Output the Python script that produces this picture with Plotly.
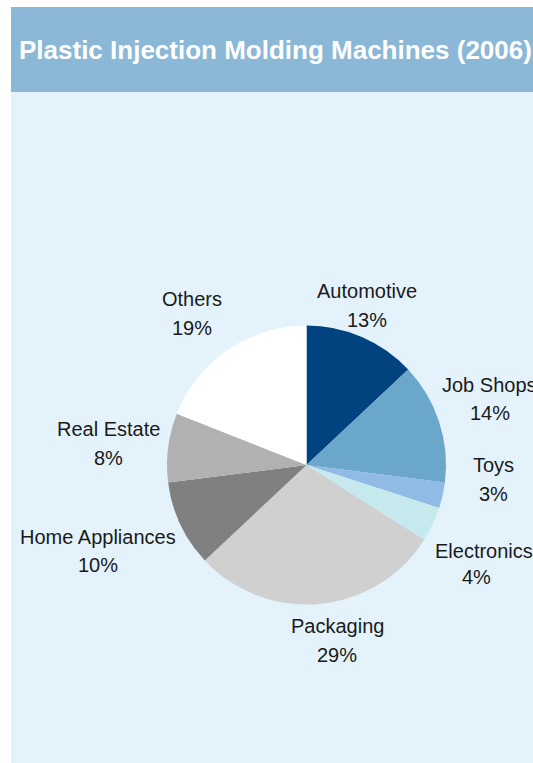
import plotly.graph_objects as go

# Market share by end-use sector
sectors = ["Automotive", "Job Shops", "Toys", "Electronics",
           "Packaging", "Home Appliances", "Real Estate", "Others"]
shares = [13, 14, 3, 4, 29, 10, 8, 19]
slice_colors = ["#00437f", "#6aa7cb", "#8fbbe4", "#c6e9ee",
                "#d0d0d0", "#808080", "#b1b1b1", "#ffffff"]

# Label placement (pixel centres of the name line and the percent line)
label_name_xy = [(367, 291), (490, 385), (493, 465), (484, 551),
                 (337, 626), (98, 537), (108, 429), (192, 299)]
label_pct_xy = [(367, 320), (490, 413), (493, 494), (476, 577),
                (337, 655), (98, 565), (108, 458), (192, 328)]

W, H = 533, 763
title = "Plastic Injection Molding Machines (2006)"
FONT = "Arial"


def px(x):
    return x / W


def py(y):
    return 1 - y / H


# Pie geometry in pixels
cx, cy, r = 306.5, 465, 139.5

fig = go.Figure(go.Pie(
    labels=sectors,
    values=shares,
    sort=False,
    direction="clockwise",
    rotation=0,
    marker=dict(colors=slice_colors, line=dict(width=0)),
    textinfo="none",
    hoverinfo="label+percent",
    showlegend=False,
    domain=dict(x=[px(cx - r), px(cx + r)], y=[py(cy + r), py(cy - r)]),
))

shapes = [
    # light panel
    dict(type="rect", xref="paper", yref="paper", x0=px(11), x1=1.05,
         y0=-0.05, y1=py(92), fillcolor="#e4f3fb", line=dict(width=0),
         layer="below"),
    # title bar
    dict(type="rect", xref="paper", yref="paper", x0=px(11), x1=1.05,
         y0=py(92), y1=py(7), fillcolor="#8ab8d6", line=dict(width=0),
         layer="below"),
]

annotations = [
    dict(text=f"<b>{title}</b>", x=px(17), y=py(50), xref="paper",
         yref="paper", xanchor="left", yanchor="middle", showarrow=False,
         font=dict(family=FONT, size=26, color="#ffffff")),
]

label_font = dict(family=FONT, size=20, color="#1a1a1a")
total = sum(shares)
for name, val, (nx, ny), (qx, qy) in zip(sectors, shares, label_name_xy, label_pct_xy):
    annotations.append(dict(text=name, x=px(nx), y=py(ny), xref="paper",
                            yref="paper", xanchor="center", yanchor="middle",
                            showarrow=False, font=label_font))
    annotations.append(dict(text=f"{round(100 * val / total)}%", x=px(qx),
                            y=py(qy), xref="paper", yref="paper",
                            xanchor="center", yanchor="middle",
                            showarrow=False, font=label_font))

fig.update_layout(
    width=W, height=H,
    margin=dict(l=0, r=0, t=0, b=0),
    paper_bgcolor="#ffffff",
    plot_bgcolor="#ffffff",
    shapes=shapes,
    annotations=annotations,
)

fig.write_html("out.html")
